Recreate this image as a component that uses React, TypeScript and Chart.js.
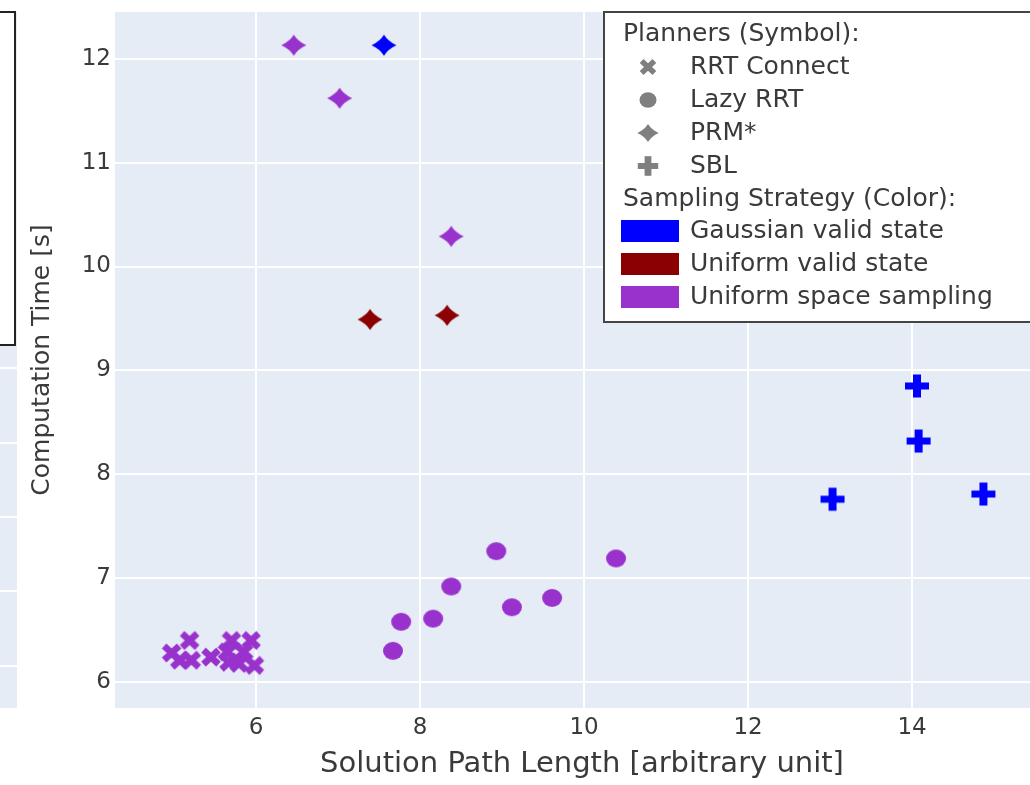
import { useEffect, useRef } from "react";
import { Chart, registerables } from "chart.js";

Chart.register(...registerables);

const FONT = '"DejaVu Sans", "Liberation Sans", sans-serif';
const TEXT = "#3a3a3a";

// Axis ticks
const xTicks = [6, 8, 10, 12, 14];
const yTicks = [6, 7, 8, 9, 10, 11, 12];

// RRT Connect, uniform space sampling
const rrtConnectX = [5.19, 4.97, 5.07, 5.21, 5.45, 5.7, 5.94, 5.65, 5.85, 5.79, 5.98, 5.67];
const rrtConnectY = [6.4, 6.28, 6.21, 6.21, 6.24, 6.4, 6.4, 6.29, 6.29, 6.18, 6.16, 6.19];

// Lazy RRT, uniform space sampling
const lazyRrtX = [8.93, 10.39, 8.38, 9.61, 9.12, 8.16, 7.77, 7.67];
const lazyRrtY = [7.26, 7.19, 6.92, 6.81, 6.72, 6.61, 6.58, 6.3];

// PRM*, uniform space sampling
const prmUniformSpaceX = [6.46, 7.02, 8.38];
const prmUniformSpaceY = [12.13, 11.62, 10.29];

// PRM*, gaussian valid state
const prmGaussianX = [7.56];
const prmGaussianY = [12.13];

// PRM*, uniform valid state
const prmUniformValidX = [7.39, 8.33];
const prmUniformValidY = [9.49, 9.53];

// SBL, gaussian valid state
const sblGaussianX = [14.06, 14.08, 13.03, 14.87];
const sblGaussianY = [8.85, 8.32, 7.76, 7.81];

const plannerLabels = ["RRT Connect", "Lazy RRT", "PRM*", "SBL"];
const plannerShapes = ["x", "circle", "stardiamond", "cross"];
const strategyLabels = ["Gaussian valid state", "Uniform valid state", "Uniform space sampling"];
const strategyColors = ["#0000FF", "#8B0000", "#9932CC"];

function makeMarker(shape: string, color: string, s = 1): HTMLCanvasElement {
  const c = document.createElement("canvas");
  c.width = 32;
  c.height = 30;
  const g = c.getContext("2d")!;
  g.translate(16, 15);
  g.scale(s, s);
  g.fillStyle = color;
  g.strokeStyle = color;
  if (shape === "x") {
    g.lineWidth = 6.5;
    g.beginPath();
    g.moveTo(-7.5, -7);
    g.lineTo(7.5, 7);
    g.moveTo(-7.5, 7);
    g.lineTo(7.5, -7);
    g.stroke();
  } else if (shape === "circle") {
    g.beginPath();
    g.ellipse(0, 0, 10, 9, 0, 0, Math.PI * 2);
    g.fill();
  } else if (shape === "stardiamond") {
    g.beginPath();
    g.moveTo(12.5, 0);
    g.quadraticCurveTo(4.2, 3.8, 0, 10.5);
    g.quadraticCurveTo(-4.2, 3.8, -12.5, 0);
    g.quadraticCurveTo(-4.2, -3.8, 0, -10.5);
    g.quadraticCurveTo(4.2, -3.8, 12.5, 0);
    g.closePath();
    g.fill();
  } else {
    g.fillRect(-12, -3.5, 24, 7);
    g.fillRect(-4, -11.5, 8, 23);
  }
  return c;
}

function toPoints(xs: number[], ys: number[]) {
  return xs.map((x, i) => ({ x, y: ys[i] }));
}

export default function App() {
  const ref = useRef<HTMLCanvasElement | null>(null);

  useEffect(() => {
    const canvas = ref.current;
    if (!canvas) return;

    const purple = strategyColors[2];
    const blue = strategyColors[0];
    const red = strategyColors[1];

    const series = [
      { xs: rrtConnectX, ys: rrtConnectY, shape: "x", color: purple, label: "RRT Connect" },
      { xs: lazyRrtX, ys: lazyRrtY, shape: "circle", color: purple, label: "Lazy RRT" },
      { xs: prmUniformSpaceX, ys: prmUniformSpaceY, shape: "stardiamond", color: purple, label: "PRM*" },
      { xs: prmGaussianX, ys: prmGaussianY, shape: "stardiamond", color: blue, label: "PRM*" },
      { xs: prmUniformValidX, ys: prmUniformValidY, shape: "stardiamond", color: red, label: "PRM*" },
      { xs: sblGaussianX, ys: sblGaussianY, shape: "cross", color: blue, label: "SBL" },
    ];

    const datasets = series.map((s) => ({
      label: s.label,
      data: toPoints(s.xs, s.ys),
      pointStyle: makeMarker(s.shape, s.color),
      pointRadius: 10,
      backgroundColor: s.color,
      borderColor: s.color,
      showLine: false,
    }));

    const legendMarkers = plannerShapes.map((sh) => makeMarker(sh, "#7f7f7f", 0.85));

    const bgPlugin = {
      id: "bg",
      beforeDraw(chart: any) {
        const { ctx, chartArea: a } = chart;
        ctx.save();
        ctx.fillStyle = "#E5ECF6";
        ctx.fillRect(a.left, a.top, a.right - a.left, a.bottom - a.top);
        // fragment of the neighbouring panel at the left edge
        ctx.fillRect(0, a.top, 17, a.bottom - a.top);
        ctx.strokeStyle = "#ffffff";
        ctx.lineWidth = 2;
        [368, 443, 517, 591, 666].forEach((y) => {
          ctx.beginPath();
          ctx.moveTo(0, y);
          ctx.lineTo(17, y);
          ctx.stroke();
        });
        ctx.fillStyle = "#ffffff";
        ctx.fillRect(-4, 12, 19, 333);
        ctx.strokeStyle = "#222222";
        ctx.lineWidth = 2;
        ctx.strokeRect(-4, 12, 19, 333);
        ctx.restore();
      },
    };

    const legendPlugin = {
      id: "customLegend",
      afterDraw(chart: any) {
        const { ctx } = chart;
        ctx.save();
        const bx = 604;
        const by = 12;
        ctx.fillStyle = "#ffffff";
        ctx.fillRect(bx, by, 470, 310);
        ctx.strokeStyle = "#444444";
        ctx.lineWidth = 2;
        ctx.strokeRect(bx, by, 470, 310);
        ctx.fillStyle = TEXT;
        ctx.font = `25px ${FONT}`;
        ctx.textBaseline = "middle";
        ctx.textAlign = "left";
        ctx.fillText("Planners (Symbol):", 623, 34);
        plannerLabels.forEach((lab, i) => {
          const y = 67 + i * 33;
          const m = legendMarkers[i];
          ctx.drawImage(m, 648 - m.width / 2, y - m.height / 2);
          ctx.fillStyle = TEXT;
          ctx.fillText(lab, 690, y);
        });
        ctx.fillText("Sampling Strategy (Color):", 623, 199);
        strategyLabels.forEach((lab, i) => {
          const y = 231 + i * 33;
          ctx.fillStyle = strategyColors[i];
          ctx.fillRect(621, y - 11, 58, 22);
          ctx.fillStyle = TEXT;
          ctx.fillText(lab, 690, y);
        });
        ctx.restore();
      },
    };

    const chart = new Chart(canvas, {
      type: "scatter",
      data: { datasets: datasets as any },
      options: {
        animation: false,
        responsive: false,
        devicePixelRatio: 1,
        layout: { padding: { top: 12, right: 5, left: 0, bottom: 0 } },
        plugins: {
          legend: { display: false },
          tooltip: { enabled: false },
        },
        scales: {
          x: {
            type: "linear",
            min: 4.28,
            max: 15.67,
            border: { display: false },
            grid: { color: "#ffffff", lineWidth: 2, drawTicks: false },
            afterBuildTicks: (scale: any) => {
              scale.ticks = xTicks.map((v) => ({ value: v }));
            },
            afterFit: (scale: any) => {
              scale.height = 77;
              scale.paddingLeft = 0;
              scale.paddingRight = 0;
            },
            ticks: {
              color: TEXT,
              font: { family: FONT, size: 23 },
              padding: 6,
              maxRotation: 0,
            },
            title: {
              display: true,
              text: "Solution Path Length [arbitrary unit]",
              color: TEXT,
              font: { family: FONT, size: 29 },
              padding: { top: 0, bottom: 3 },
            },
          },
          y: {
            type: "linear",
            min: 5.75,
            max: 12.45,
            border: { display: false },
            grid: { color: "#ffffff", lineWidth: 2, drawTicks: false },
            afterBuildTicks: (scale: any) => {
              scale.ticks = yTicks.map((v) => ({ value: v }));
            },
            afterFit: (scale: any) => {
              scale.width = 115;
              scale.paddingTop = 0;
              scale.paddingBottom = 0;
            },
            ticks: {
              color: TEXT,
              font: { family: FONT, size: 23 },
              padding: 4,
            },
            title: {
              display: true,
              text: "Computation Time [s]",
              color: TEXT,
              font: { family: FONT, size: 25 },
              padding: { top: 27, bottom: 0 },
            },
          },
        },
      },
      plugins: [bgPlugin, legendPlugin],
    });

    return () => chart.destroy();
  }, []);

  return (
    <div
      style={{
        position: "absolute",
        left: 0,
        top: 0,
        width: 1030,
        height: 785,
        overflow: "hidden",
        background: "#ffffff",
      }}
    >
      <canvas ref={ref} width={1060} height={785} style={{ display: "block" }} />
    </div>
  );
}
